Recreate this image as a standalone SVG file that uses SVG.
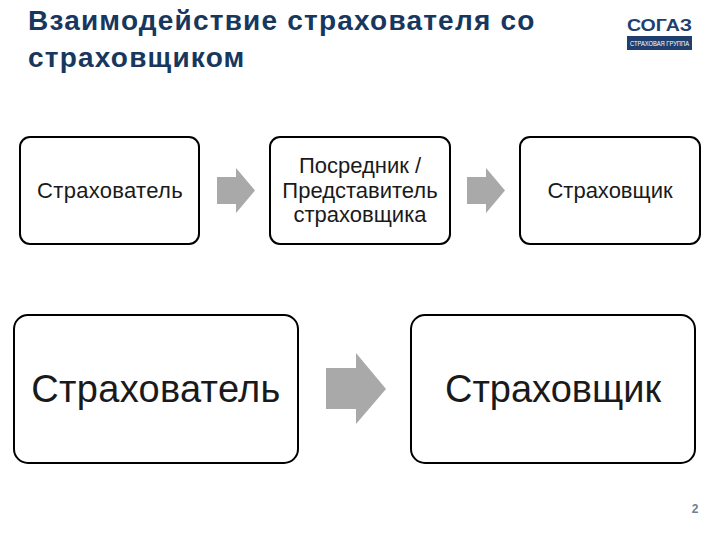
<svg xmlns="http://www.w3.org/2000/svg" width="720" height="540" viewBox="0 0 720 540">
<style>
text{font-family:"Liberation Sans",Arial,sans-serif}
.box{fill:#fff;stroke:#000;stroke-width:2}
.arrow{fill:#a9a9a9}
.s{font-size:22px;fill:#1a1a1a;text-anchor:middle}
.l{font-size:38px;fill:#1a1a1a;text-anchor:middle}
.w{letter-spacing:.3px}
.t{font-size:28px;font-weight:bold;fill:#17375e;letter-spacing:1.2px}
</style>
<rect width="720" height="540" fill="#fff"/>
<g id="title"><text class="t" x="28" y="30">Взаимодействие страхователя со</text><text class="t" x="28" y="67">страховщиком</text></g>
<g id="logo"><text x="659.5" y="31" font-size="16" font-weight="bold" fill="#1f3f6f" text-anchor="middle" textLength="65" lengthAdjust="spacingAndGlyphs">СОГАЗ</text><rect x="627" y="36" width="65" height="14" fill="#1f3f6f"/><text x="659.5" y="45.500" font-size="7" fill="#fff" text-anchor="middle" textLength="59" lengthAdjust="spacingAndGlyphs">СТРАХОВАЯ ГРУППА</text></g>
<g id="connectors">
<path class="arrow" d="M217 177H236V168L255 190.500L236 213V204H217Z"/>
<path class="arrow" d="M467 177H486V168L505 190.500L486 213V204H467Z"/>
<path class="arrow" d="M326 368H356V353L386 389L356 424V409H326Z"/>
</g>
<g id="n1"><rect class="box" x="20" y="137" width="179" height="107" rx="10"/><text class="s w" x="110" y="198">Страхователь</text></g>
<g id="n2"><rect class="box" x="270" y="137" width="180" height="107" rx="10"/><text class="s" x="360" y="173">Посредник /</text><text class="s" x="360" y="198">Представитель</text><text class="s" x="360" y="222">страховщика</text></g>
<g id="n3"><rect class="box" x="520" y="137" width="180" height="107" rx="10"/><text class="s" x="610" y="198">Страховщик</text></g>
<g id="n4"><rect class="box" x="14" y="315" width="284" height="148" rx="14"/><text class="l w" x="156" y="402">Страхователь</text></g>
<g id="n5"><rect class="box" x="411" y="315" width="284" height="148" rx="14"/><text class="l" x="553" y="402">Страховщик</text></g>
<text x="695" y="513" font-size="12" font-weight="bold" fill="#6f7f95" text-anchor="middle">2</text>
</svg>
